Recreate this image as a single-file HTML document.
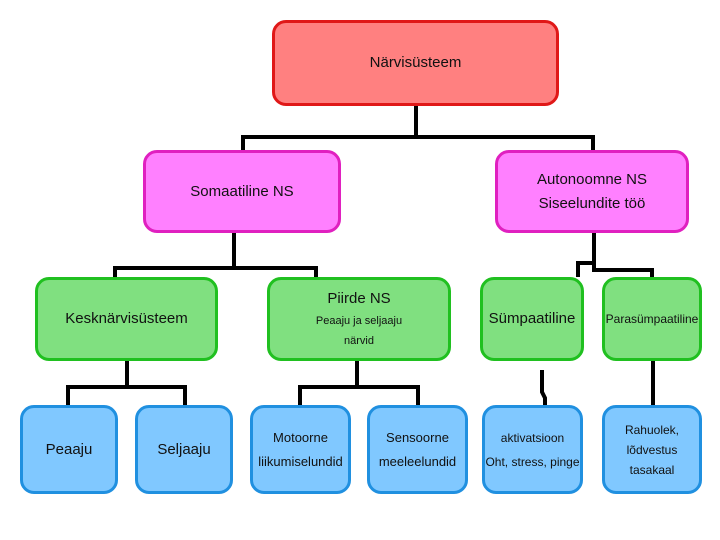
<!DOCTYPE html>
<html><head><meta charset="utf-8"><style>
body{margin:0;width:720px;height:540px;background:#fff;overflow:hidden;position:relative;font-family:"Liberation Sans",sans-serif}
.b{position:absolute;box-sizing:border-box;border-radius:14px;border:3px solid;display:flex;flex-direction:column;align-items:center;justify-content:center;text-align:center;color:#111;font-size:15px;line-height:24px}
.r{background:#ff8080;border-color:#e01818}
.p{background:#ff80ff;border-color:#e020c0}
.g{background:#80e080;border-color:#20c020}
.u{background:#80c8ff;border-color:#2090e0}
.s{font-size:11px;line-height:20px}
svg{position:absolute;left:0;top:0}
</style></head><body>
<svg width="720" height="540"><g stroke="#000" stroke-width="4" fill="none">
<path d="M416 106V137M243 150V137H593V150"/>
<path d="M234 232V268M115 277V268H316V285"/>
<path d="M594 232V263H578V277M594 263V270H652V277"/>
<path d="M127 360V387M68 405V387H185V405"/>
<path d="M357 360V387M300 405V387H418V405"/>
<path d="M542 370V392L545 398V405"/>
<path d="M653 360V405"/>
</g></svg>
<div class="b r" style="left:272px;top:20px;width:287px;height:86px">Närvisüsteem</div>
<div class="b p" style="left:143px;top:150px;width:198px;height:83px">Somaatiline NS</div>
<div class="b p" style="left:495px;top:150px;width:194px;height:83px">Autonoomne NS<br>Siseelundite töö</div>
<div class="b g" style="left:35px;top:277px;width:183px;height:84px">Kesknärvisüsteem</div>
<div class="b g" style="left:267px;top:277px;width:184px;height:84px">Piirde NS<span class="s">Peaaju ja seljaaju<br>närvid</span></div>
<div class="b g" style="left:480px;top:277px;width:104px;height:84px">Sümpaatiline</div>
<div class="b g" style="left:602px;top:277px;width:100px;height:84px;font-size:12px">Parasümpaatiline</div>
<div class="b u" style="left:20px;top:405px;width:98px;height:89px">Peaaju</div>
<div class="b u" style="left:135px;top:405px;width:98px;height:89px">Seljaaju</div>
<div class="b u" style="left:250px;top:405px;width:101px;height:89px;font-size:13px">Motoorne<br>liikumiselundid</div>
<div class="b u" style="left:367px;top:405px;width:101px;height:89px;font-size:13px">Sensoorne<br>meeleelundid</div>
<div class="b u" style="left:482px;top:405px;width:101px;height:89px;font-size:12px">aktivatsioon<br>Oht, stress, pinge</div>
<div class="b u" style="left:602px;top:405px;width:100px;height:89px;font-size:12px;line-height:20px">Rahuolek,<br>lõdvestus<br>tasakaal</div>
</body></html>
